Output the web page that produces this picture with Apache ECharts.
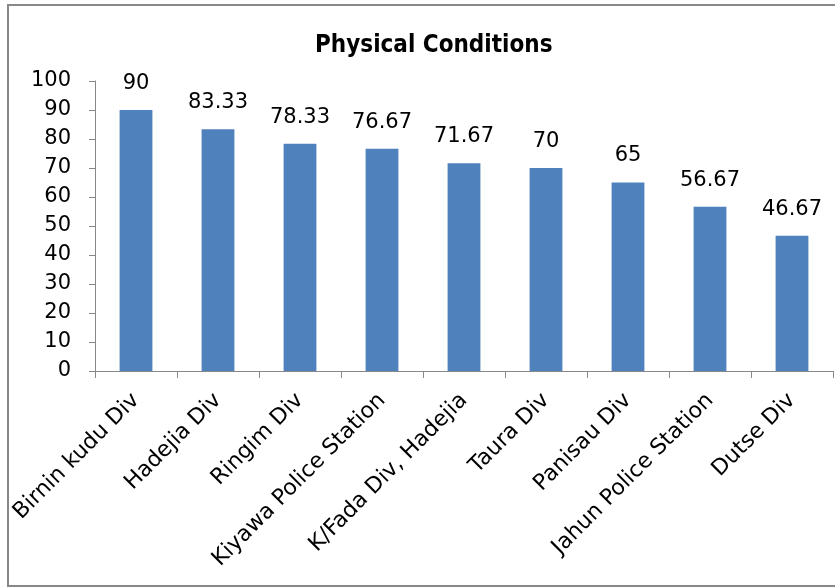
<!DOCTYPE html>
<html>
<head>
<meta charset="utf-8">
<script src="https://cdn.jsdelivr.net/npm/echarts@6/dist/echarts.min.js"></script>
<style>
  html, body { margin: 0; padding: 0; background: #fff; }
  #chart { width: 835px; height: 587px; }
</style>
</head>
<body>
<div id="chart"></div>
<script>
var categories = ['Birnin kudu Div', 'Hadejia Div', 'Ringim Div', 'Kiyawa Police Station',
    'K/Fada Div, Hadejia', 'Taura Div', 'Panisau Div', 'Jahun Police Station', 'Dutse Div'];
var values = [90, 83.33, 78.33, 76.67, 71.67, 70, 65, 56.67, 46.67];
var yTicks = [0, 10, 20, 30, 40, 50, 60, 70, 80, 90, 100];

var font = '"DejaVu Sans", sans-serif';

var chart = echarts.init(document.getElementById('chart'));

var option = {
    animation: false,
    title: {
        text: 'Physical Conditions',
        left: 310,
        top: 29,
        textStyle: {
            fontFamily: '"DejaVu Sans Condensed", "DejaVu Sans", sans-serif',
            fontSize: 24,
            fontWeight: 'bold',
            color: '#000'
        }
    },
    graphic: [{
        type: 'rect',
        shape: { x: 8, y: 5, width: 840, height: 581 },
        style: { fill: 'none', stroke: '#888', lineWidth: 2 },
        silent: true
    }],
    grid: {
        left: 95,
        right: 2,
        top: 81,
        bottom: 216
    },
    xAxis: {
        type: 'category',
        data: categories,
        axisLine: { lineStyle: { color: '#888', width: 1 } },
        axisTick: { show: true, length: 7, alignWithLabel: false, lineStyle: { color: '#888' } },
        axisLabel: {
            rotate: 45,
            interval: 0,
            margin: 26,
            color: '#000',
            fontFamily: font,
            fontSize: 22
        }
    },
    yAxis: {
        type: 'value',
        min: yTicks[0],
        max: yTicks[yTicks.length - 1],
        interval: 10,
        axisLine: { show: true, lineStyle: { color: '#888', width: 1 } },
        axisTick: { show: true, length: 6, lineStyle: { color: '#888' } },
        splitLine: { show: false },
        axisLabel: {
            margin: 24,
            color: '#000',
            fontFamily: font,
            fontSize: 21
        }
    },
    series: [{
        type: 'bar',
        data: values,
        barWidth: '40%',
        itemStyle: { color: '#4F81BD' },
        label: {
            show: true,
            position: 'top',
            distance: 16,
            color: '#000',
            fontFamily: font,
            fontSize: 21
        }
    }]
};

chart.setOption(option);
</script>
</body>
</html>
